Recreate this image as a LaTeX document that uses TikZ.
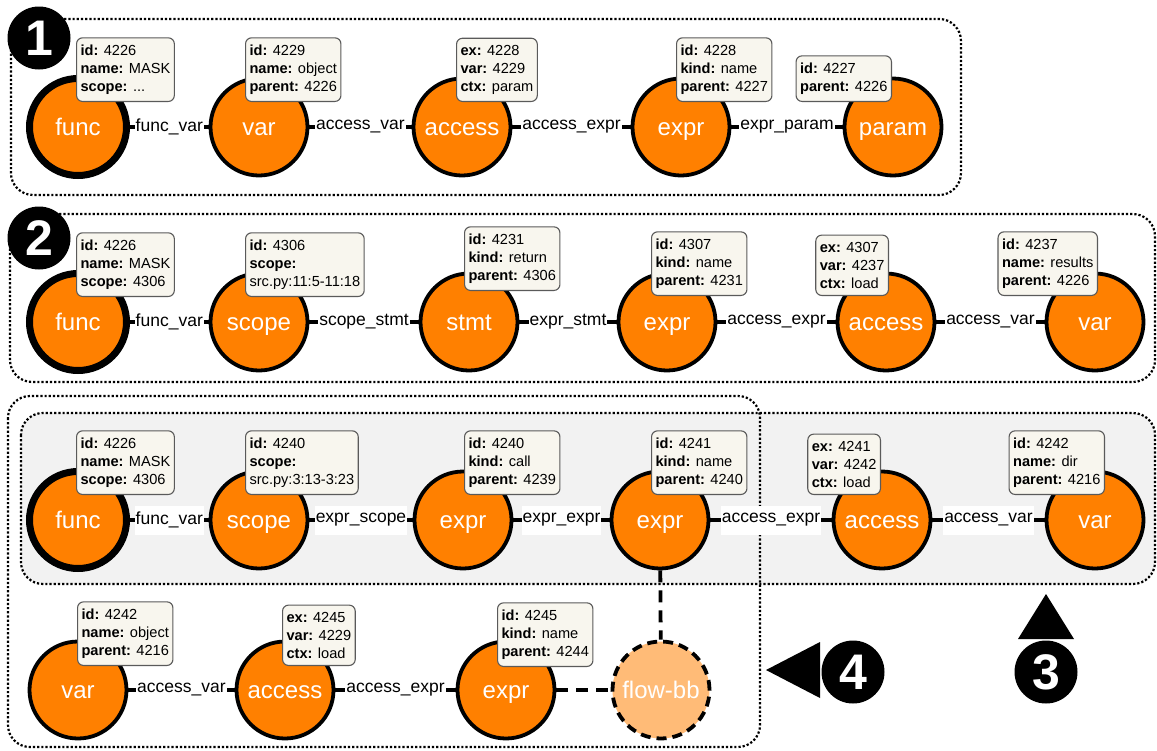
\documentclass[tikz,border=0pt]{standalone}
\usepackage{fontspec}
\setmainfont{Liberation Sans}
\definecolor{nodeorange}{RGB}{255,128,0}
\definecolor{flowfill}{RGB}{255,187,119}
\definecolor{grpgray}{RGB}{242,242,242}
\definecolor{infofill}{RGB}{248,246,238}
\definecolor{infoline}{RGB}{90,90,90}
\newcommand{\kv}[2]{\textbf{#1:} #2}
\tikzset{
  obj/.style={circle, draw=black, line width=3.8pt, fill=nodeorange, minimum size=97pt, inner sep=0pt, text=white, text height=17.5pt, text depth=1.5pt, font=\fontsize{24}{28}\selectfont},
  root/.style={obj, line width=7pt},
  flow/.style={obj, fill=flowfill, dash pattern=on 10pt off 6pt},
  info/.style={draw=infoline, fill=infofill, line width=1.1pt, rounded corners=6pt, align=left, inner xsep=4pt, inner ysep=7pt, font=\fontsize{14.6}{18}\selectfont},
  lbl/.style={fill=white, inner xsep=1pt, inner ysep=0pt, minimum height=29pt, font=\fontsize{17.5}{20}\selectfont},
  rel/.style={line width=3.8pt},
  flowrel/.style={line width=3.8pt, dash pattern=on 12pt off 8pt},
  grp/.style={dotted, line width=2.2pt, rounded corners=22pt},
  badge/.style={circle, fill=black, text=white, minimum size=63pt, inner sep=0pt, font=\fontsize{50}{50}\selectfont\bfseries},
}
\begin{document}
\begin{tikzpicture}[x=1pt, y=-1pt]
\useasboundingbox (0,0) rectangle (1157,750);

% groups
\draw[grp]                (11,19)  rectangle (961,195);
\draw[grp]                (10,214) rectangle (1155,382);
\draw[grp, fill=grpgray]  (21,413) rectangle (1155,584);
\draw[grp]                (8,396)  rectangle (760,747);

\node(b1)   [badge] at (39,38)    {1};
\node(b2)   [badge] at (39,238)   {2};
\node(b3)   [badge] at (1046,672) {3};
\node(b4)   [badge] at (853,672)  {4};
\fill (766,670) -- (820,642) -- (820,698) -- cycle;
\fill (1046,594) -- (1074,639) -- (1018,639) -- cycle;

% row 1
\node(c11)  [root] at (78,127)   {func};
\node(c12)  [obj]  at (259,127)  {var};
\node(c13)  [obj]  at (462,127)  {access};
\node(c14)  [obj]  at (681,127)  {expr};
\node(c15)  [obj]  at (893,127)  {param};
\draw[rel] (c11) -- node[lbl] {func\_var}    (c12);
\draw[rel] (c12) -- node[lbl] {access\_var}  (c13);
\draw[rel] (c13) -- node[lbl] {access\_expr} (c14);
\draw[rel] (c14) -- node[lbl] {expr\_param}  (c15);
\node(i11)  [info, anchor=south west] at (76,102)  {\kv{id}{4226}\\\kv{name}{MASK}\\\kv{scope}{...}};
\node(i12)  [info, anchor=south west] at (245,102) {\kv{id}{4229}\\\kv{name}{object}\\\kv{parent}{4226}};
\node(i13)  [info, anchor=south west] at (456,102) {\kv{ex}{4228}\\\kv{var}{4229}\\\kv{ctx}{param}};
\node(i14)  [info, anchor=south west] at (676,102) {\kv{id}{4228}\\\kv{kind}{name}\\\kv{parent}{4227}};
\node(i15)  [info, anchor=south east] at (892,102) {\kv{id}{4227}\\\kv{parent}{4226}};

% row 2
\node(c21)  [root] at (78,322)   {func};
\node(c22)  [obj]  at (259,322)  {scope};
\node(c23)  [obj]  at (469,322)  {stmt};
\node(c24)  [obj]  at (667,322)  {expr};
\node(c25)  [obj]  at (886,322)  {access};
\node(c26)  [obj]  at (1095,322) {var};
\draw[rel] (c21) -- node[lbl] {func\_var}    (c22);
\draw[rel] (c22) -- node[lbl] {scope\_stmt}  (c23);
\draw[rel] (c23) -- node[lbl] {expr\_stmt}   (c24);
\draw[rel] (c24) -- node[lbl] {access\_expr} (c25);
\draw[rel] (c25) -- node[lbl] {access\_var}  (c26);
\node(i21)  [info, anchor=south west] at (76,297)   {\kv{id}{4226}\\\kv{name}{MASK}\\\kv{scope}{4306}};
\node(i22)  [info, anchor=south west] at (245,297)  {\kv{id}{4306}\\\textbf{scope:}\\src.py:11:5-11:18};
\node(i23)  [info, anchor=south west] at (464,291)  {\kv{id}{4231}\\\kv{kind}{return}\\\kv{parent}{4306}};
\node(i24)  [info, anchor=south west] at (651,296)  {\kv{id}{4307}\\\kv{kind}{name}\\\kv{parent}{4231}};
\node(i25)  [info, anchor=south east] at (889,296)  {\kv{ex}{4307}\\\kv{var}{4237}\\\kv{ctx}{load}};
\node(i26)  [info, anchor=south east] at (1098,296) {\kv{id}{4237}\\\kv{name}{results}\\\kv{parent}{4226}};

% row 3
\node(c31)  [root] at (78,520)   {func};
\node(c32)  [obj]  at (259,520)  {scope};
\node(c33)  [obj]  at (463,520)  {expr};
\node(c34)  [obj]  at (660,520)  {expr};
\node(c35)  [obj]  at (882,520)  {access};
\node(c36)  [obj]  at (1095,520) {var};
\draw[rel] (c31) -- node[lbl] {func\_var}    (c32);
\draw[rel] (c32) -- node[lbl] {expr\_scope}  (c33);
\draw[rel] (c33) -- node[lbl] {expr\_expr}   (c34);
\draw[rel] (c34) -- node[lbl] {access\_expr} (c35);
\draw[rel] (c35) -- node[lbl] {access\_var}  (c36);
\node(i31)  [info, anchor=south west] at (76,495)   {\kv{id}{4226}\\\kv{name}{MASK}\\\kv{scope}{4306}};
\node(i32)  [info, anchor=south west] at (245,495)  {\kv{id}{4240}\\\textbf{scope:}\\src.py:3:13-3:23};
\node(i33)  [info, anchor=south west] at (464,495)  {\kv{id}{4240}\\\kv{kind}{call}\\\kv{parent}{4239}};
\node(i34)  [info, anchor=south west] at (651,495)  {\kv{id}{4241}\\\kv{kind}{name}\\\kv{parent}{4240}};
\node(i35)  [info, anchor=south east] at (881,495)  {\kv{ex}{4241}\\\kv{var}{4242}\\\kv{ctx}{load}};
\node(i36)  [info, anchor=south east] at (1105,495) {\kv{id}{4242}\\\kv{name}{dir}\\\kv{parent}{4216}};

% row 4
\node(c41)  [obj]  at (78,690)   {var};
\node(c42)  [obj]  at (285,690)  {access};
\node(c43)  [obj]  at (506,690)  {expr};
\node(c44)  [flow] at (661,690)  {flow-bb};
\draw[rel] (c41) -- node[lbl] {access\_var}  (c42);
\draw[rel] (c42) -- node[lbl] {access\_expr} (c43);
\draw[flowrel] (c43) -- (c44);
\draw[flowrel] (c34) -- (c44);
\node(i41)  [info, anchor=south west] at (77,666)  {\kv{id}{4242}\\\kv{name}{object}\\\kv{parent}{4216}};
\node(i42)  [info, anchor=south west] at (282,666) {\kv{ex}{4245}\\\kv{var}{4229}\\\kv{ctx}{load}};
\node(i43)  [info, anchor=south west] at (497,667) {\kv{id}{4245}\\\kv{kind}{name}\\\kv{parent}{4244}};
\end{tikzpicture}
\end{document}
